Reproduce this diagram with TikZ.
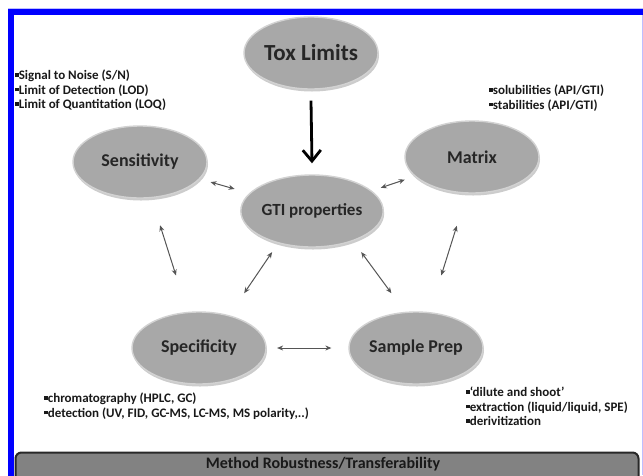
\documentclass[tikz,border=0pt]{standalone}
\usepackage{fontspec}
\setmainfont{Carlito}
\usetikzlibrary{arrows.meta,shadows,calc,shapes.geometric}
\definecolor{frameblue}{RGB}{0,0,255}
\definecolor{lightblue}{RGB}{190,190,255}
\definecolor{ellfill}{RGB}{168,168,168}
\definecolor{ellrim}{RGB}{210,210,210}
\definecolor{arrgray}{RGB}{85,85,85}
\definecolor{barfill}{RGB}{130,130,130}
\definecolor{bardark}{RGB}{40,40,40}
\newcommand{\sqb}{\rule[0.22em]{0.28em}{0.28em}}
\begin{document}
\begin{tikzpicture}[x=1pt,y=-1pt,
  oval/.style={ellipse, minimum width=134pt, minimum height=72pt, inner sep=0pt,
    fill=ellfill, draw=ellrim, line width=1.4pt,
    drop shadow={opacity=0.4, shadow xshift=1pt, shadow yshift=-2.5pt},
    font=\fontsize{18}{20}\selectfont\bfseries, text=black!85},
  biarrow/.style={arrgray, line width=1pt, {Stealth[length=6pt,width=5pt]}-{Stealth[length=6pt,width=5pt]}},
  bullets/.style={align=left, anchor=north west, inner sep=0pt,
    font=\fontsize{13}{14.5}\selectfont\bfseries, text=black!90}
]
\useasboundingbox (0,0) rectangle (643,475);
\fill[white] (0,0) rectangle (643,475);
% frame
\draw[lightblue, line width=1pt] (8,8.5) -- (643,8.5);
\draw[lightblue, line width=1pt] (642,14) -- (642,475);
\draw[frameblue, line width=6pt] (11,478) -- (11,11.5) -- (643,11.5);
% bottom bar
\begin{scope}
\clip (0,0) rectangle (643,475);
\draw[bardark, line width=2pt, fill=barfill, rounded corners=6pt] (15.5,452.5) rectangle (638.5,490);
\end{scope}
\node[font=\fontsize{16}{18}\selectfont\bfseries, text=black!90] (bar) at (323,464) {Method Robustness/Transferability};

% ellipses
\node[oval, font=\fontsize{23}{25}\selectfont\bfseries] (tox) at (311,53) {Tox Limits};
\node[oval, font=\fontsize{17}{19}\selectfont\bfseries] (gti) at (312,211) {GTI properties};
\node[oval] (sens) at (140,162) {Sensitivity};
\node[oval] (matrix) at (472,157) {Matrix};
\node[oval] (spec) at (199,348) {Specificity};
\node[oval] (sp) at (416,348) {Sample Prep};

% main arrow
\draw[black, line width=2.8pt, -{Straight Barb[length=11pt,width=18pt,line width=2.8pt]}]
  ($(tox.south)+(0,11)$) -- ($(gti.north)+(0,-11)$);

% double arrows
\draw[biarrow] ($(sens)!0.41!(gti)$) -- ($(sens)!0.55!(gti)$);
\draw[biarrow] ($(matrix)!0.42!(gti)$) -- ($(matrix)!0.57!(gti)$);
\draw[biarrow] ($(sens)!0.34!(spec)$) -- ($(sens)!0.61!(spec)$);
\draw[biarrow] ($(matrix)!0.36!(sp)+(5,0)$) -- ($(matrix)!0.62!(sp)+(4,0)$);
\draw[biarrow] ($(gti)!0.30!(spec)+(-6,0)$) -- ($(gti)!0.60!(spec)$);
\draw[biarrow] ($(gti)!0.30!(sp)+(18,0)$) -- ($(gti)!0.60!(sp)+(17,0)$);
\draw[biarrow] ($(spec)!0.36!(sp)$) -- ($(spec)!0.61!(sp)$);

% bullet lists
\node[bullets] (senslist) at (15,70) {\sqb Signal to Noise (S/N)\\ \sqb Limit of Detection (LOD)\\ \sqb Limit of Quantitation (LOQ)};
\node[bullets] (matlist) at (489,85) {\sqb solubilities (API/GTI)\\ \sqb stabilities (API/GTI)};
\node[bullets] (speclist) at (44,393) {\sqb chromatography (HPLC, GC)\\ \sqb detection (UV, FID, GC-MS, LC-MS, MS polarity,..)};
\node[bullets] (splist) at (466,387) {\sqb `dilute and shoot'\\ \sqb extraction (liquid/liquid, SPE)\\ \sqb derivitization};
\end{tikzpicture}
\end{document}
